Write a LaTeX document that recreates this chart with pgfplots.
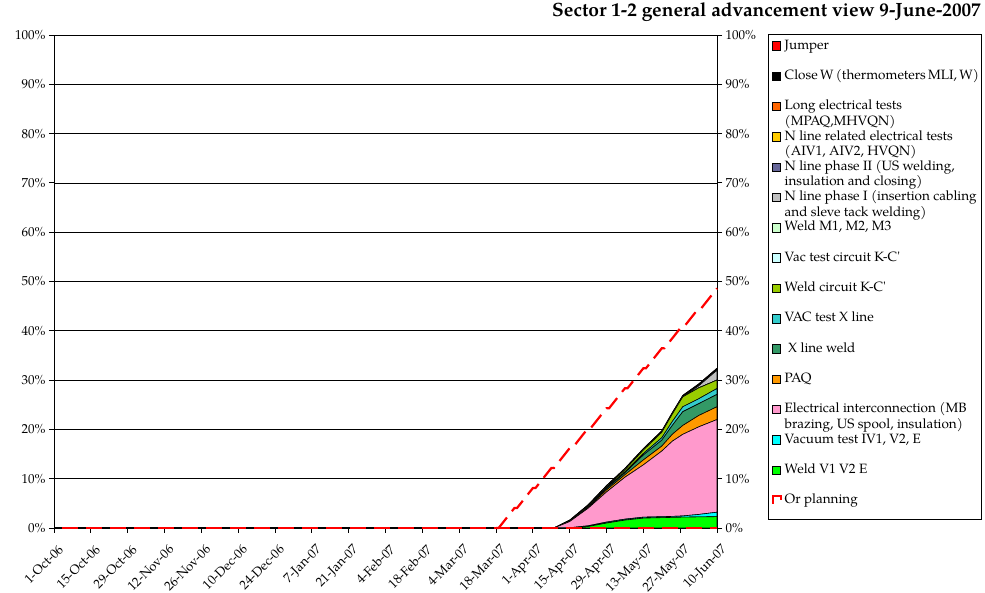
\documentclass[border=0pt]{standalone}
\usepackage{fontspec}
\setmainfont{texgyrepagella}[Extension=.otf, UprightFont=*-regular, BoldFont=*-bold, ItalicFont=*-italic, BoldItalicFont=*-bolditalic]
\usepackage{pgfplots}
\pgfplotsset{compat=1.18}
\usepackage{pgfplotstable}

\definecolor{cJ}{RGB}{255,0,0}
\definecolor{cCW}{RGB}{0,0,0}
\definecolor{cLE}{RGB}{255,102,0}
\definecolor{cNR}{RGB}{255,204,0}
\definecolor{cNtwo}{RGB}{102,102,153}
\definecolor{cNone}{RGB}{192,192,192}
\definecolor{cWM}{RGB}{204,255,204}
\definecolor{cVK}{RGB}{204,255,255}
\definecolor{cWK}{RGB}{153,204,0}
\definecolor{cVX}{RGB}{51,204,204}
\definecolor{cXW}{RGB}{51,153,102}
\definecolor{cPAQ}{RGB}{255,153,0}
\definecolor{cEI}{RGB}{255,153,204}
\definecolor{cVT}{RGB}{0,255,255}
\definecolor{cWV}{RGB}{0,255,0}

\newcommand\tickfont{\fontsize{13bp}{15bp}\selectfont}
\newcommand\legfont{\fontsize{13.5bp}{15.6bp}\selectfont}
\newcommand\titlefont{\fontsize{19.2bp}{22bp}\selectfont\bfseries}
\newcommand\lgone[1]{\hbox to 193bp{#1\hfil}}
\newcommand\lgtwo[2]{\vtop{\baselineskip=15.6bp\hbox to 193bp{#1\hfil}\hbox to 193bp{#2\hfil}}}

\pgfplotsset{
  sqleg/.style={fill=#1, draw=black, line width=0.6bp,
    legend image code/.code={\draw[##1] (0bp,-1bp) rectangle (8.5bp,7.5bp);}},
  planleg/.style={draw=red, line width=2bp,
    legend image code/.code={\draw[##1] (0.8bp,0bp) -- (0.8bp,7.3bp) -- (9bp,7.3bp) -- (9bp,3.5bp);}},
  ar/.style={fill=#1, draw=black, line width=0.6bp},
  planline/.style={draw=red, line width=2.2bp, dash pattern=on 16bp off 8bp},
}

% stacked series, bottom to top
\pgfplotstableread{
day G C P O XW VX WK VK WM None Ntwo NR LE CW J
0   0    0    0     0   0   0    0    0 0 0   0 0 0 0   0
190 0    0    0     0   0   0    0    0 0 0   0 0 0 0   0
196 0    0.05 1.25  0   0   0    0    0 0 0   0 0 0 0.3 0
203 0.3  0.15 3.55  0.2 0.1 0.05 0.05 0 0 0   0 0 0 0.3 0
210 1.0  0.2  6.1   0.4 0.3 0.1  0.2  0 0 0   0 0 0 0.3 0
217 1.6  0.2  8.5   0.5 0.4 0.2  0.4  0 0 0   0 0 0 0.3 0
224 2.0  0.2  10.6  1.0 1.0 0.3  0.7  0 0 0   0 0 0 0.3 0
231 2.1  0.2  13.3  1.0 1.2 0.5  1.1  0 0 0   0 0 0 0.3 0
235 2.15 0.2  15.25 1.4 1.8 0.8  1.5  0 0 0   0 0 0 0.3 0
239 2.2  0.25 16.55 1.8 2.8 1.0  2.0  0 0 0   0 0 0 0.3 0
245 2.25 0.5  17.75 2.3 2.4 1.0  2.2  0 0 0.4 0 0 0 0.4 0
252 2.3  0.9  18.8  2.6 2.5 1.2  1.7  0 0 2.0 0 0 0 0.4 0
}\stackdata

\pgfplotstableread{
day plan
168 0
169 0
175 4.05
176 4.05
182 8.10
183 8.10
189 12.15
190 12.15
196 16.20
197 16.20
203 20.25
204 20.25
210 24.30
211 24.30
217 28.35
218 28.35
224 32.40
225 32.40
231 36.45
232 36.45
238 40.50
239 40.50
245 44.55
246 44.55
252 48.60
}\plandata

\pgfplotstableread{
day zero
0 0
252 0
}\zerodata

\begin{document}
\begin{tikzpicture}
\path[use as bounding box] (0,0) rectangle (985bp,593bp);
\begin{axis}[
  at={(54bp,65bp)}, anchor=south west,
  width=663bp, height=493bp, scale only axis,
  xmin=0, xmax=252, ymin=0, ymax=100,
  stack plots=y,
  axis line style={line width=0.8bp, black},
  tick align=outside, major tick length=5bp,
  tick style={black, line width=0.8bp},
  xtick={0,14,...,252},
  xticklabels={1-Oct-06,15-Oct-06,29-Oct-06,12-Nov-06,26-Nov-06,10-Dec-06,24-Dec-06,7-Jan-07,21-Jan-07,4-Feb-07,18-Feb-07,4-Mar-07,18-Mar-07,1-Apr-07,15-Apr-07,29-Apr-07,13-May-07,27-May-07,10-Jun-07},
  xtick pos=left, ytick pos=both,
  ytick={0,10,...,100},
  yticklabel={\pgfmathparse{int(round(\tick))}\pgfmathresult\%},
  yticklabel style={font=\tickfont},
  xticklabel style={font=\tickfont, rotate=45, anchor=north east, inner sep=1bp, xshift=-4bp, yshift=-9bp},
  ymajorgrids, grid style={black, line width=0.6bp},
  title={Sector 1-2 general advancement view 9-June-2007},
  title style={at={(axis description cs:1.3982,1.0250)}, anchor=base east, font=\titlefont, inner sep=0pt},
  legend style={at={(axis description cs:1.0762,1.0020)}, anchor=north west,
    draw=black, line width=0.75bp, fill=white, inner xsep=4bp, inner ysep=0.3bp,
    row sep=0pt, column sep=2.5bp, font=\legfont,
    nodes={inner sep=0pt, anchor=base west, text height=14.5bp, text depth=15.8bp}},
]
\addplot[ar=cWV, forget plot] table[x=day, y=G] {\stackdata} \closedcycle;
\addplot[ar=cVT, forget plot] table[x=day, y=C] {\stackdata} \closedcycle;
\addplot[ar=cEI, forget plot] table[x=day, y=P] {\stackdata} \closedcycle;
\addplot[ar=cPAQ, forget plot] table[x=day, y=O] {\stackdata} \closedcycle;
\addplot[ar=cXW, forget plot] table[x=day, y=XW] {\stackdata} \closedcycle;
\addplot[ar=cVX, forget plot] table[x=day, y=VX] {\stackdata} \closedcycle;
\addplot[ar=cWK, forget plot] table[x=day, y=WK] {\stackdata} \closedcycle;
\addplot[ar=cVK, forget plot] table[x=day, y=VK] {\stackdata} \closedcycle;
\addplot[ar=cWM, forget plot] table[x=day, y=WM] {\stackdata} \closedcycle;
\addplot[ar=cNone, forget plot] table[x=day, y=None] {\stackdata} \closedcycle;
\addplot[ar=cNtwo, forget plot] table[x=day, y=Ntwo] {\stackdata} \closedcycle;
\addplot[ar=cNR, forget plot] table[x=day, y=NR] {\stackdata} \closedcycle;
\addplot[ar=cLE, forget plot] table[x=day, y=LE] {\stackdata} \closedcycle;
\addplot[ar=cCW, forget plot] table[x=day, y=CW] {\stackdata} \closedcycle;
\addplot[ar=cJ, forget plot] table[x=day, y=J] {\stackdata} \closedcycle;

\addlegendimage{sqleg=cJ}\addlegendentry{\lgone{Jumper}}
\addlegendimage{sqleg=cCW}\addlegendentry{\lgone{Close W (thermometers MLI, W)}}
\addlegendimage{sqleg=cLE}\addlegendentry{\lgtwo{Long electrical tests}{(MPAQ,MHVQN)}}
\addlegendimage{sqleg=cNR}\addlegendentry{\lgtwo{N line related electrical tests}{(AIV1, AIV2, HVQN)}}
\addlegendimage{sqleg=cNtwo}\addlegendentry{\lgtwo{N line phase II (US welding,}{insulation and closing)}}
\addlegendimage{sqleg=cNone}\addlegendentry{\lgtwo{N line phase I (insertion cabling}{and sleve tack welding)}}
\addlegendimage{sqleg=cWM}\addlegendentry{\lgone{Weld M1, M2, M3}}
\addlegendimage{sqleg=cVK}\addlegendentry{\lgone{Vac test circuit K-C\textquotesingle}}
\addlegendimage{sqleg=cWK}\addlegendentry{\lgone{Weld circuit K-C\textquotesingle}}
\addlegendimage{sqleg=cVX}\addlegendentry{\lgone{VAC test X line}}
\addlegendimage{sqleg=cXW}\addlegendentry{\lgone{\hspace*{3.5bp}X line weld}}
\addlegendimage{sqleg=cPAQ}\addlegendentry{\lgone{PAQ}}
\addlegendimage{sqleg=cEI}\addlegendentry{\lgtwo{Electrical interconnection (MB}{brazing, US spool, insulation)}}
\addlegendimage{sqleg=cVT}\addlegendentry{\lgone{Vacuum test IV1, V2, E}}
\addlegendimage{sqleg=cWV}\addlegendentry{\lgone{Weld V1 V2 E}}
\addlegendimage{planleg}\addlegendentry{\lgone{Or planning}}
\end{axis}

\begin{axis}[
  at={(54bp,65bp)}, anchor=south west,
  width=663bp, height=493bp, scale only axis,
  xmin=0, xmax=252, ymin=0, ymax=100,
  axis x line=none, axis y line*=right,
  axis line style={line width=0.8bp, black, -},
  tick align=outside, major tick length=5bp,
  tick style={black, line width=0.8bp},
  ytick={0,10,...,100},
  yticklabel pos=right,
  yticklabel={\pgfmathparse{int(round(\tick))}\pgfmathresult\%},
  yticklabel style={font=\tickfont},
  clip=false,
]
\addplot[planline, dash phase=16bp] table[x=day, y=zero] {\zerodata};
\addplot[planline] table[x=day, y=plan] {\plandata};
\end{axis}
\end{tikzpicture}
\end{document}
